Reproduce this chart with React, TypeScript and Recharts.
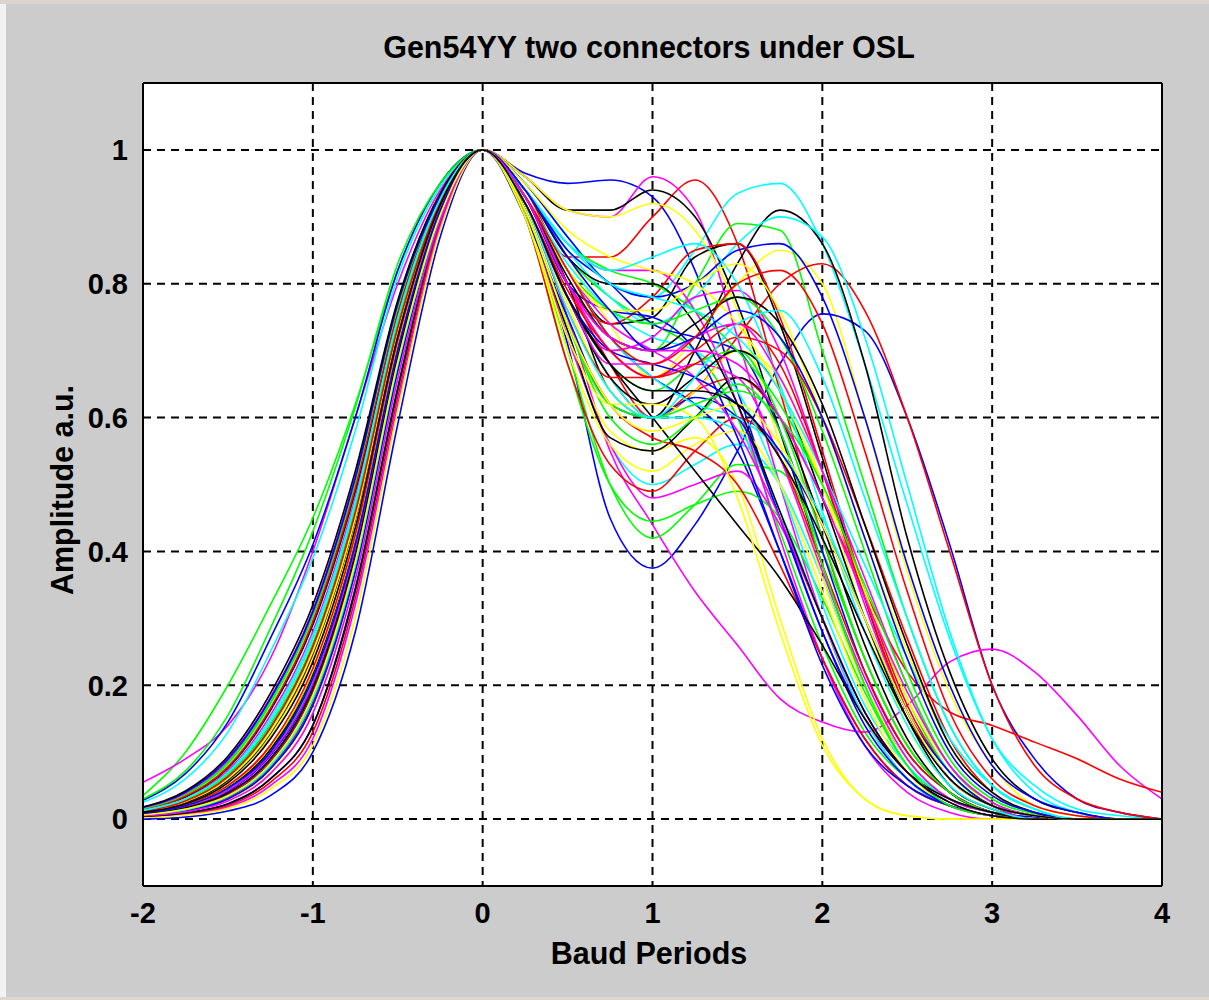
import React from 'react';
import { LineChart, Line, XAxis, YAxis, CartesianGrid, ReferenceLine } from 'recharts';

const X_VALUES = [-2, -1.75, -1.5, -1.25, -1, -0.75, -0.5, -0.25, 0, 0.25, 0.5, 0.75, 1, 1.25, 1.5, 1.75, 2, 2.25, 2.5, 2.75, 3, 3.25, 3.5, 3.75, 4];
const X_TICKS = [-2, -1, 0, 1, 2, 3, 4];
const X_TICK_LABELS = ['-2', '-1', '0', '1', '2', '3', '4'];
const Y_TICKS = [0, 0.2, 0.4, 0.6, 0.8, 1];
const Y_TICK_LABELS = ['0', '0.2', '0.4', '0.6', '0.8', '1'];

const BLUE_CURVES = [
  [0.004, 0.01, 0.022, 0.06, 0.14, 0.34, 0.64, 0.89, 1, 0.965, 0.95, 0.955, 0.93, 0.82, 0.64, 0.45, 0.28, 0.15, 0.07, 0.03, 0.01, 0.003, 0, 0, 0],
  [0, 0.003, 0.012, 0.035, 0.1, 0.28, 0.59, 0.87, 1, 0.91, 0.71, 0.45, 0.375, 0.44, 0.55, 0.68, 0.755, 0.73, 0.6, 0.41, 0.2, 0.09, 0.03, 0.01, 0],
  [0.028, 0.068, 0.145, 0.27, 0.41, 0.6, 0.82, 0.95, 1, 0.93, 0.82, 0.72, 0.66, 0.62, 0.55, 0.4, 0.24, 0.12, 0.05, 0.02, 0.005, 0, 0, 0, 0],
  [0.012, 0.028, 0.065, 0.14, 0.26, 0.46, 0.74, 0.92, 1, 0.94, 0.85, 0.8, 0.74, 0.72, 0.7, 0.58, 0.4, 0.22, 0.1, 0.04, 0.01, 0, 0, 0, 0],
  [0.007, 0.018, 0.042, 0.095, 0.2, 0.4, 0.69, 0.91, 1, 0.95, 0.87, 0.8, 0.78, 0.8, 0.85, 0.86, 0.78, 0.6, 0.38, 0.2, 0.08, 0.03, 0.01, 0, 0],
  [0.018, 0.04, 0.09, 0.18, 0.31, 0.51, 0.77, 0.93, 1, 0.9, 0.75, 0.62, 0.6, 0.63, 0.6, 0.45, 0.28, 0.14, 0.06, 0.02, 0.005, 0, 0, 0, 0],
  [0.005, 0.012, 0.03, 0.075, 0.17, 0.37, 0.67, 0.9, 1, 0.93, 0.8, 0.76, 0.75, 0.7, 0.57, 0.4, 0.23, 0.11, 0.05, 0.02, 0.005, 0, 0, 0, 0],
  [0.006, 0.015, 0.036, 0.085, 0.19, 0.39, 0.685, 0.905, 1, 0.92, 0.78, 0.7, 0.68, 0.66, 0.62, 0.55, 0.44, 0.3, 0.16, 0.07, 0.02, 0.005, 0, 0, 0],
  [0.009, 0.02, 0.046, 0.1, 0.21, 0.41, 0.7, 0.91, 1, 0.94, 0.84, 0.76, 0.7, 0.72, 0.76, 0.72, 0.6, 0.42, 0.24, 0.1, 0.035, 0.01, 0, 0, 0],
];

const GREEN_CURVES = [
  [0.035, 0.1, 0.2, 0.32, 0.45, 0.62, 0.82, 0.95, 1, 0.94, 0.84, 0.78, 0.74, 0.7, 0.6, 0.43, 0.26, 0.13, 0.06, 0.02, 0.005, 0, 0, 0, 0],
  [0.015, 0.036, 0.083, 0.173, 0.303, 0.503, 0.763, 0.931, 1, 0.93, 0.8, 0.72, 0.7, 0.8, 0.89, 0.88, 0.7, 0.5, 0.3, 0.14, 0.05, 0.015, 0, 0, 0],
  [0.011, 0.027, 0.062, 0.135, 0.255, 0.455, 0.735, 0.92, 1, 0.9, 0.7, 0.5, 0.42, 0.47, 0.53, 0.52, 0.4, 0.24, 0.11, 0.04, 0.01, 0, 0, 0, 0],
  [0.009, 0.021, 0.048, 0.105, 0.22, 0.42, 0.71, 0.91, 1, 0.9, 0.68, 0.5, 0.445, 0.47, 0.49, 0.45, 0.33, 0.19, 0.08, 0.03, 0.01, 0, 0, 0, 0],
  [0.016, 0.037, 0.085, 0.175, 0.305, 0.505, 0.765, 0.93, 1, 0.92, 0.78, 0.68, 0.64, 0.68, 0.7, 0.6, 0.42, 0.24, 0.11, 0.04, 0.01, 0, 0, 0, 0],
  [0.03, 0.072, 0.155, 0.285, 0.43, 0.615, 0.83, 0.95, 1, 0.94, 0.86, 0.82, 0.8, 0.76, 0.7, 0.62, 0.5, 0.34, 0.18, 0.07, 0.02, 0.005, 0, 0, 0],
  [0.006, 0.014, 0.034, 0.08, 0.18, 0.38, 0.68, 0.9, 1, 0.91, 0.74, 0.6, 0.56, 0.6, 0.65, 0.58, 0.38, 0.2, 0.08, 0.02, 0.005, 0, 0, 0, 0],
  [0.008, 0.019, 0.045, 0.1, 0.205, 0.405, 0.698, 0.91, 1, 0.93, 0.82, 0.76, 0.74, 0.76, 0.78, 0.72, 0.58, 0.4, 0.22, 0.09, 0.03, 0.008, 0, 0, 0],
  [0.012, 0.029, 0.066, 0.14, 0.262, 0.462, 0.738, 0.922, 1, 0.91, 0.74, 0.62, 0.6, 0.62, 0.64, 0.6, 0.5, 0.35, 0.2, 0.08, 0.025, 0.005, 0, 0, 0],
];

const RED_CURVES = [
  [0.01, 0.024, 0.058, 0.125, 0.245, 0.445, 0.725, 0.92, 1, 0.94, 0.84, 0.84, 0.9, 0.955, 0.86, 0.64, 0.42, 0.24, 0.11, 0.04, 0.01, 0, 0, 0, 0],
  [0.008, 0.019, 0.044, 0.1, 0.21, 0.41, 0.7, 0.91, 1, 0.93, 0.8, 0.68, 0.6, 0.64, 0.72, 0.8, 0.83, 0.76, 0.6, 0.4, 0.2, 0.08, 0.03, 0.01, 0],
  [0.014, 0.034, 0.078, 0.165, 0.295, 0.495, 0.755, 0.93, 1, 0.92, 0.78, 0.66, 0.6, 0.64, 0.66, 0.6, 0.48, 0.34, 0.22, 0.16, 0.14, 0.115, 0.09, 0.06, 0.04],
  [0.005, 0.013, 0.032, 0.078, 0.175, 0.375, 0.675, 0.9, 1, 0.9, 0.68, 0.53, 0.49, 0.55, 0.6, 0.54, 0.38, 0.22, 0.1, 0.04, 0.01, 0, 0, 0, 0],
  [0.009, 0.021, 0.05, 0.11, 0.222, 0.422, 0.712, 0.915, 1, 0.93, 0.8, 0.74, 0.78, 0.85, 0.86, 0.75, 0.55, 0.34, 0.17, 0.07, 0.02, 0.005, 0, 0, 0],
  [0.003, 0.008, 0.02, 0.055, 0.13, 0.33, 0.63, 0.89, 1, 0.91, 0.74, 0.62, 0.57, 0.55, 0.5, 0.38, 0.24, 0.12, 0.05, 0.02, 0.005, 0, 0, 0, 0],
  [0.009, 0.022, 0.05, 0.11, 0.225, 0.425, 0.715, 0.915, 1, 0.92, 0.76, 0.66, 0.66, 0.7, 0.74, 0.68, 0.52, 0.33, 0.16, 0.06, 0.02, 0.005, 0, 0, 0],
  [0.007, 0.016, 0.038, 0.088, 0.192, 0.392, 0.688, 0.906, 1, 0.92, 0.79, 0.7, 0.66, 0.68, 0.72, 0.7, 0.6, 0.44, 0.27, 0.12, 0.04, 0.01, 0, 0, 0],
  [0.011, 0.027, 0.063, 0.136, 0.258, 0.458, 0.734, 0.921, 1, 0.93, 0.82, 0.72, 0.68, 0.72, 0.8, 0.82, 0.74, 0.55, 0.34, 0.16, 0.06, 0.02, 0.005, 0, 0],
];

const CYAN_CURVES = [
  [0.015, 0.035, 0.08, 0.17, 0.3, 0.5, 0.76, 0.93, 1, 0.95, 0.87, 0.8, 0.78, 0.85, 0.935, 0.95, 0.86, 0.68, 0.47, 0.27, 0.12, 0.05, 0.015, 0.005, 0],
  [0.01, 0.025, 0.06, 0.13, 0.25, 0.45, 0.73, 0.92, 1, 0.91, 0.72, 0.56, 0.5, 0.53, 0.56, 0.5, 0.36, 0.2, 0.09, 0.03, 0.01, 0, 0, 0, 0],
  [0.025, 0.06, 0.13, 0.25, 0.39, 0.58, 0.81, 0.945, 1, 0.94, 0.85, 0.78, 0.74, 0.78, 0.86, 0.9, 0.87, 0.72, 0.5, 0.28, 0.12, 0.04, 0.01, 0, 0],
  [0.016, 0.038, 0.086, 0.178, 0.308, 0.508, 0.768, 0.932, 1, 0.93, 0.83, 0.76, 0.72, 0.7, 0.64, 0.5, 0.32, 0.17, 0.08, 0.03, 0.01, 0, 0, 0, 0],
  [0.005, 0.012, 0.03, 0.075, 0.17, 0.37, 0.67, 0.9, 1, 0.92, 0.78, 0.66, 0.6, 0.6, 0.58, 0.46, 0.3, 0.15, 0.06, 0.02, 0.005, 0, 0, 0, 0],
  [0.008, 0.02, 0.045, 0.1, 0.21, 0.41, 0.7, 0.91, 1, 0.93, 0.82, 0.72, 0.66, 0.62, 0.6, 0.55, 0.45, 0.3, 0.16, 0.06, 0.02, 0.005, 0, 0, 0],
  [0.012, 0.03, 0.068, 0.145, 0.27, 0.47, 0.745, 0.925, 1, 0.94, 0.86, 0.82, 0.84, 0.86, 0.8, 0.65, 0.46, 0.28, 0.14, 0.05, 0.015, 0, 0, 0, 0],
  [0.006, 0.014, 0.034, 0.08, 0.18, 0.38, 0.68, 0.9, 1, 0.94, 0.86, 0.8, 0.78, 0.76, 0.72, 0.64, 0.52, 0.38, 0.24, 0.12, 0.05, 0.015, 0, 0, 0],
  [0.013, 0.03, 0.07, 0.15, 0.275, 0.475, 0.748, 0.927, 1, 0.92, 0.76, 0.64, 0.6, 0.66, 0.74, 0.76, 0.66, 0.48, 0.3, 0.14, 0.05, 0.015, 0, 0, 0],
];

const MAGENTA_CURVES = [
  [0.013, 0.031, 0.072, 0.155, 0.28, 0.48, 0.75, 0.93, 1, 0.96, 0.91, 0.9, 0.96, 0.91, 0.72, 0.5, 0.3, 0.15, 0.06, 0.02, 0.005, 0, 0, 0, 0],
  [0.055, 0.09, 0.14, 0.24, 0.4, 0.6, 0.8, 0.94, 1, 0.92, 0.75, 0.55, 0.44, 0.34, 0.26, 0.18, 0.145, 0.13, 0.17, 0.235, 0.254, 0.22, 0.155, 0.08, 0.03],
  [0.017, 0.04, 0.09, 0.182, 0.312, 0.512, 0.772, 0.934, 1, 0.91, 0.72, 0.56, 0.48, 0.5, 0.52, 0.44, 0.3, 0.16, 0.07, 0.02, 0.005, 0, 0, 0, 0],
  [0.007, 0.017, 0.04, 0.09, 0.195, 0.395, 0.69, 0.905, 1, 0.93, 0.8, 0.7, 0.66, 0.68, 0.66, 0.54, 0.37, 0.21, 0.09, 0.03, 0.01, 0, 0, 0, 0],
  [0.017, 0.039, 0.088, 0.18, 0.31, 0.51, 0.77, 0.935, 1, 0.94, 0.86, 0.82, 0.82, 0.76, 0.62, 0.42, 0.24, 0.11, 0.04, 0.01, 0, 0, 0, 0, 0],
  [0.003, 0.007, 0.018, 0.05, 0.12, 0.32, 0.62, 0.885, 1, 0.92, 0.78, 0.7, 0.72, 0.78, 0.79, 0.7, 0.52, 0.32, 0.16, 0.06, 0.02, 0, 0, 0, 0],
  [0.012, 0.028, 0.064, 0.138, 0.26, 0.46, 0.736, 0.921, 1, 0.93, 0.82, 0.74, 0.7, 0.66, 0.58, 0.45, 0.3, 0.16, 0.07, 0.025, 0.005, 0, 0, 0, 0],
  [0.008, 0.018, 0.043, 0.097, 0.203, 0.403, 0.696, 0.908, 1, 0.92, 0.78, 0.68, 0.68, 0.72, 0.74, 0.66, 0.52, 0.36, 0.2, 0.08, 0.025, 0.005, 0, 0, 0],
  [0.005, 0.011, 0.027, 0.068, 0.158, 0.358, 0.658, 0.895, 1, 0.93, 0.8, 0.72, 0.7, 0.7, 0.68, 0.6, 0.48, 0.33, 0.19, 0.08, 0.025, 0.005, 0, 0, 0],
];

const YELLOW_CURVES = [
  [0.016, 0.036, 0.082, 0.172, 0.302, 0.502, 0.762, 0.93, 1, 0.94, 0.84, 0.74, 0.66, 0.72, 0.8, 0.85, 0.8, 0.6, 0.37, 0.19, 0.08, 0.02, 0.005, 0, 0],
  [0.007, 0.018, 0.043, 0.098, 0.205, 0.405, 0.695, 0.91, 1, 0.91, 0.72, 0.58, 0.55, 0.57, 0.5, 0.3, 0.12, 0.03, 0.005, 0, 0, 0, 0, 0, 0],
  [0.012, 0.03, 0.069, 0.148, 0.272, 0.472, 0.746, 0.926, 1, 0.96, 0.91, 0.9, 0.92, 0.88, 0.76, 0.56, 0.36, 0.2, 0.09, 0.03, 0.01, 0, 0, 0, 0],
  [0.01, 0.024, 0.057, 0.125, 0.24, 0.44, 0.725, 0.92, 1, 0.92, 0.77, 0.64, 0.6, 0.64, 0.7, 0.66, 0.5, 0.3, 0.14, 0.05, 0.015, 0, 0, 0, 0],
  [0.004, 0.011, 0.028, 0.07, 0.16, 0.36, 0.66, 0.895, 1, 0.9, 0.7, 0.56, 0.52, 0.56, 0.58, 0.5, 0.34, 0.18, 0.07, 0.02, 0.005, 0, 0, 0, 0],
  [0.009, 0.022, 0.05, 0.108, 0.222, 0.422, 0.712, 0.914, 1, 0.95, 0.88, 0.84, 0.82, 0.8, 0.74, 0.64, 0.5, 0.34, 0.18, 0.08, 0.02, 0.005, 0, 0, 0],
  [0.002, 0.006, 0.016, 0.045, 0.11, 0.3, 0.61, 0.88, 1, 0.9, 0.72, 0.62, 0.62, 0.6, 0.48, 0.28, 0.11, 0.03, 0.005, 0, 0, 0, 0, 0, 0],
  [0.011, 0.026, 0.06, 0.13, 0.25, 0.45, 0.73, 0.92, 1, 0.93, 0.82, 0.76, 0.76, 0.8, 0.83, 0.76, 0.6, 0.42, 0.25, 0.11, 0.04, 0.01, 0, 0, 0],
  [0.006, 0.015, 0.035, 0.083, 0.185, 0.385, 0.683, 0.903, 1, 0.91, 0.74, 0.62, 0.58, 0.6, 0.62, 0.56, 0.44, 0.3, 0.16, 0.06, 0.02, 0.005, 0, 0, 0],
];

const BLACK_CURVES = [
  [0.009, 0.021, 0.047, 0.102, 0.212, 0.412, 0.702, 0.91, 1, 0.96, 0.91, 0.91, 0.94, 0.9, 0.77, 0.58, 0.38, 0.2, 0.09, 0.03, 0.01, 0, 0, 0, 0],
  [0.014, 0.033, 0.076, 0.162, 0.29, 0.49, 0.755, 0.93, 1, 0.93, 0.8, 0.64, 0.6, 0.7, 0.83, 0.91, 0.86, 0.68, 0.42, 0.22, 0.09, 0.03, 0.01, 0, 0],
  [0.006, 0.013, 0.031, 0.076, 0.172, 0.372, 0.672, 0.9, 1, 0.91, 0.73, 0.57, 0.55, 0.6, 0.66, 0.6, 0.44, 0.26, 0.12, 0.04, 0.01, 0, 0, 0, 0],
  [0.008, 0.02, 0.046, 0.104, 0.214, 0.414, 0.704, 0.912, 1, 0.93, 0.82, 0.74, 0.75, 0.84, 0.86, 0.74, 0.54, 0.33, 0.16, 0.06, 0.02, 0, 0, 0, 0],
  [0.01, 0.025, 0.058, 0.128, 0.248, 0.448, 0.728, 0.92, 1, 0.92, 0.78, 0.66, 0.62, 0.66, 0.7, 0.64, 0.48, 0.3, 0.15, 0.05, 0.015, 0, 0, 0, 0],
  [0.018, 0.042, 0.094, 0.188, 0.32, 0.52, 0.775, 0.935, 1, 0.92, 0.78, 0.68, 0.6, 0.52, 0.44, 0.36, 0.26, 0.15, 0.07, 0.03, 0.01, 0, 0, 0, 0],
  [0.004, 0.009, 0.023, 0.06, 0.14, 0.345, 0.645, 0.895, 1, 0.94, 0.84, 0.8, 0.8, 0.74, 0.62, 0.46, 0.3, 0.16, 0.07, 0.025, 0.005, 0, 0, 0, 0],
  [0.007, 0.017, 0.039, 0.09, 0.195, 0.395, 0.69, 0.906, 1, 0.93, 0.81, 0.72, 0.7, 0.74, 0.78, 0.74, 0.62, 0.44, 0.26, 0.11, 0.04, 0.01, 0, 0, 0],
  [0.01, 0.023, 0.054, 0.12, 0.235, 0.435, 0.72, 0.918, 1, 0.92, 0.78, 0.68, 0.64, 0.64, 0.62, 0.54, 0.42, 0.28, 0.15, 0.06, 0.02, 0.005, 0, 0, 0],
];

const COLOR_GROUPS: { color: string; curves: number[][] }[] = [
  { color: '#0000ff', curves: BLUE_CURVES },
  { color: '#00ff00', curves: GREEN_CURVES },
  { color: '#ff0000', curves: RED_CURVES },
  { color: '#00ffff', curves: CYAN_CURVES },
  { color: '#ff00ff', curves: MAGENTA_CURVES },
  { color: '#ffff00', curves: YELLOW_CURVES },
  { color: '#000000', curves: BLACK_CURVES },
];

// MATLAB plot order: b g r c m y k, cycling
const SERIES: { key: string; color: string; values: number[] }[] = [];
for (let i = 0; i < 9; i++) {
  COLOR_GROUPS.forEach((g, gi) => {
    if (g.curves[i]) SERIES.push({ key: `s${gi}_${i}`, color: g.color, values: g.curves[i] });
  });
}

const DATA = X_VALUES.map((x, idx) => {
  const row: Record<string, number> = { x };
  SERIES.forEach((s) => {
    row[s.key] = s.values[idx];
  });
  return row;
});

const FONT = '"Liberation Sans", Arial, Helvetica, sans-serif';
const TICK_STYLE = { fill: '#000', fontSize: 29, fontWeight: 'bold', fontFamily: FONT } as const;
const INNER_TICK_LINE = { stroke: '#000', strokeWidth: 1.5 };

const textStyle = {
  position: 'absolute' as const,
  fontSize: 30.5,
  fontWeight: 'bold' as const,
  lineHeight: '34px',
  color: '#000',
  whiteSpace: 'nowrap' as const,
};

export default function App() {
  return (
    <div
      style={{
        position: 'absolute',
        left: 0,
        top: 0,
        width: 1209,
        height: 1000,
        background: '#cccccc',
        overflow: 'hidden',
        fontFamily: FONT,
      }}
    >
      <div style={{ position: 'absolute', left: 0, top: 0, width: 1209, height: 4, background: '#d9d5cd' }} />
      <div style={{ position: 'absolute', left: 0, top: 4, width: 6, height: 996, background: '#f2f2f2' }} />
      <div style={{ position: 'absolute', left: 0, bottom: 0, width: 1209, height: 3, background: '#dcd7cf' }} />
      <div style={{ position: 'absolute', left: 0, top: 0 }}>
        <LineChart width={1209} height={1000} data={DATA} margin={{ top: 83, right: 47, bottom: 0, left: 0 }}>
          <CartesianGrid stroke="#000" strokeWidth={2} strokeDasharray="8 6" fill="#ffffff" fillOpacity={1} />
          {/* inward tick marks (MATLAB style box ticks) */}
          <XAxis
            xAxisId="bottomTicks"
            type="number"
            dataKey="x"
            orientation="bottom"
            mirror
            domain={[-2, 4]}
            ticks={X_TICKS}
            interval={0}
            height={0}
            axisLine={false}
            tick={false}
            tickLine={INNER_TICK_LINE}
            tickSize={12}
            allowDataOverflow
          />
          <XAxis
            type="number"
            dataKey="x"
            domain={[-2, 4]}
            ticks={X_TICKS}
            interval={0}
            height={114}
            axisLine={false}
            tickLine={false}
            tickSize={0}
            tickMargin={16}
            allowDataOverflow
            tick={TICK_STYLE}
            tickFormatter={(v: number) => X_TICK_LABELS[X_TICKS.indexOf(v)] ?? String(v)}
          />
          <XAxis
            xAxisId="topTicks"
            type="number"
            dataKey="x"
            orientation="top"
            mirror
            domain={[-2, 4]}
            ticks={X_TICKS}
            interval={0}
            height={0}
            axisLine={false}
            tick={false}
            tickLine={INNER_TICK_LINE}
            tickSize={12}
            allowDataOverflow
          />
          <YAxis
            yAxisId="leftTicks"
            type="number"
            orientation="left"
            mirror
            domain={[-0.1, 1.1]}
            ticks={Y_TICKS}
            interval={0}
            width={0}
            axisLine={false}
            tick={false}
            tickLine={INNER_TICK_LINE}
            tickSize={12}
            allowDataOverflow
          />
          <YAxis
            type="number"
            domain={[-0.1, 1.1]}
            ticks={Y_TICKS}
            interval={0}
            width={143}
            axisLine={false}
            tickLine={false}
            tickSize={0}
            tickMargin={15}
            allowDataOverflow
            tick={TICK_STYLE}
            tickFormatter={(v: number) => {
              const i = Y_TICKS.findIndex((t) => Math.abs(t - v) < 1e-9);
              return i >= 0 ? Y_TICK_LABELS[i] : String(v);
            }}
          />
          <YAxis
            yAxisId="rightTicks"
            type="number"
            orientation="right"
            mirror
            domain={[-0.1, 1.1]}
            ticks={Y_TICKS}
            interval={0}
            width={0}
            axisLine={false}
            tick={false}
            tickLine={INNER_TICK_LINE}
            tickSize={12}
            allowDataOverflow
          />
          {SERIES.map((s) => (
            <Line
              key={s.key}
              dataKey={s.key}
              stroke={s.color}
              strokeWidth={1.6}
              type="monotone"
              dot={false}
              activeDot={false}
              isAnimationActive={false}
            />
          ))}
          <ReferenceLine x={-2} stroke="#000" strokeWidth={2} />
          <ReferenceLine x={4} stroke="#000" strokeWidth={2} />
          <ReferenceLine y={-0.1} stroke="#000" strokeWidth={2} />
          <ReferenceLine y={1.1} stroke="#000" strokeWidth={2} />
        </LineChart>
      </div>
      <div style={{ ...textStyle, left: 249, top: 30, width: 800, textAlign: 'center' }}>
        Gen54YY two connectors under OSL
      </div>
      <div style={{ ...textStyle, left: 249, top: 936, width: 800, textAlign: 'center' }}>Baud Periods</div>
      <div style={{ ...textStyle, left: 62, top: 490, transform: 'translate(-50%, -50%) rotate(-90deg)' }}>
        Amplitude a.u.
      </div>
    </div>
  );
}
